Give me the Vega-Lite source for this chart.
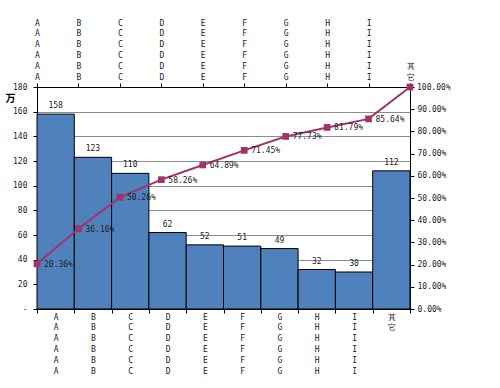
{
  "$schema": "https://vega.github.io/schema/vega-lite/v6.json",
  "width": 373,
  "height": 222,
  "autosize": {"type": "none"},
  "padding": {"left": 37, "top": 87, "right": 90, "bottom": 79},
  "background": "white",
  "config": {
    "view": {"stroke": null},
    "font": "DejaVu Sans Mono",
    "text": {"font": "DejaVu Sans Mono"},
    "axis": {
      "labelFont": "DejaVu Sans Mono",
      "labelFontSize": 8,
      "labelColor": "#222222",
      "domainColor": "#000000",
      "tickColor": "#000000",
      "tickSize": 4,
      "labelLineHeight": 10.8
    }
  },
  "data": {
    "values": [
      {"cat": "AAAAAA", "value": 158, "cum": 0.2036, "cumLabel": "20.36%"},
      {"cat": "BBBBBB", "value": 123, "cum": 0.3616, "cumLabel": "36.16%"},
      {"cat": "CCCCCC", "value": 110, "cum": 0.5026, "cumLabel": "50.26%"},
      {"cat": "DDDDDD", "value": 62, "cum": 0.5826, "cumLabel": "58.26%"},
      {"cat": "EEEEEE", "value": 52, "cum": 0.6489, "cumLabel": "64.89%"},
      {"cat": "FFFFFF", "value": 51, "cum": 0.7145, "cumLabel": "71.45%"},
      {"cat": "GGGGGG", "value": 49, "cum": 0.7773, "cumLabel": "77.73%"},
      {"cat": "HHHHHH", "value": 32, "cum": 0.8179, "cumLabel": "81.79%"},
      {"cat": "IIIIII", "value": 30, "cum": 0.8564, "cumLabel": "85.64%"},
      {"cat": "其它", "value": 112, "cum": 1.0, "cumLabel": "100.00%"}
    ]
  },
  "layer": [
    {
      "encoding": {
        "x": {
          "field": "cat", "type": "nominal", "sort": null,
          "scale": {"type": "band", "paddingInner": 0, "paddingOuter": 0},
          "axis": {
            "orient": "bottom", "title": null, "labelAngle": 0,
            "tickBand": "extent", "labelPadding": 0,
            "labelBaseline": "top",
            "labelExpr": "split(datum.label, '')"
          }
        },
        "y": {
          "field": "value", "type": "quantitative",
          "scale": {"domain": [0, 180], "nice": false, "zero": true},
          "axis": {
            "orient": "left",
            "values": [0, 20, 40, 60, 80, 100, 120, 140, 160, 180],
            "labelExpr": "datum.value == 0 ? '-   ' : datum.label",
            "grid": true, "gridColor": "#8c8c8c", "gridWidth": 1,
            "labelPadding": 6,
            "title": "万", "titleAngle": 0, "titleX": -27, "titleY": 11,
            "titleAlign": "center", "titleBaseline": "middle",
            "titleFontSize": 10, "titleFontWeight": "bold", "titleFont": "Noto Sans CJK SC"
          }
        }
      },
      "layer": [
        {"mark": {"type": "bar", "fill": "#4F81BD", "stroke": "#000000", "strokeWidth": 1}},
        {
          "mark": {"type": "text", "baseline": "bottom", "dy": -4, "fontSize": 8, "color": "#222222"},
          "encoding": {"text": {"field": "value", "type": "quantitative"}}
        }
      ]
    },
    {
      "encoding": {
        "x": {
          "field": "cat", "type": "nominal", "sort": null,
          "scale": {"type": "point", "padding": 0},
          "axis": {
            "orient": "top", "title": null, "labelAngle": 0,
            "labelPadding": 56, "labelBaseline": "bottom",
            "labelExpr": "length(datum.label) < 3 ? ['\u2800', '\u2800', '\u2800', '\u2800', substring(datum.label, 0, 1), substring(datum.label, 1, 2)] : split(datum.label, '')"
          }
        },
        "y": {
          "field": "cum", "type": "quantitative",
          "scale": {"domain": [0, 1], "nice": false},
          "axis": {
            "orient": "right", "title": null, "grid": false,
            "values": [0, 0.1, 0.2, 0.3, 0.4, 0.5, 0.6, 0.7, 0.8, 0.9, 1],
            "format": ".2%", "labelPadding": 3,
            "labelExpr": "datum.value == 1 ? '' : datum.label"
          }
        }
      },
      "layer": [
        {"mark": {"type": "line", "color": "#A0336A", "strokeWidth": 2}},
        {"mark": {"type": "point", "shape": "square", "filled": true, "size": 45, "color": "#A0336A", "opacity": 1}},
        {
          "mark": {"type": "text", "align": "left", "baseline": "middle", "dx": 7, "dy": 1, "fontSize": 8, "color": "#222222"},
          "encoding": {
            "text": {"field": "cumLabel", "type": "nominal"},
            "fontWeight": {"condition": {"test": "datum.cum == 1", "value": "bold"}, "value": "normal"}
          }
        }
      ]
    }
  ],
  "resolve": {
    "scale": {"x": "independent", "y": "independent"},
    "axis": {"x": "independent", "y": "independent"}
  }
}
